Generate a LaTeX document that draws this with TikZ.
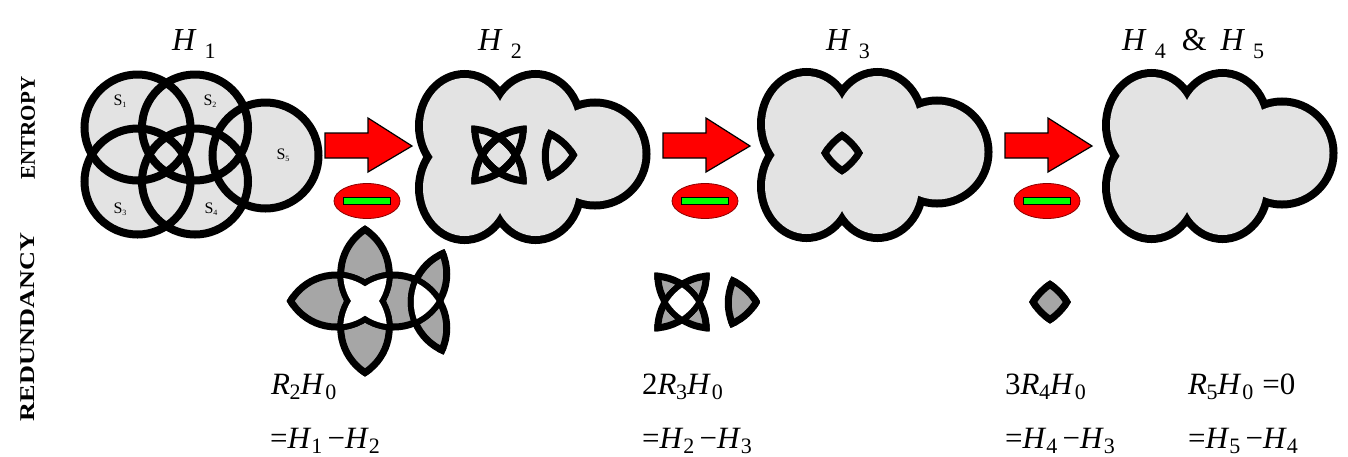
\documentclass[tikz,border=0pt]{standalone}
\usepackage{fontspec}
\usepackage{graphicx}
\setmainfont{Liberation Serif}
\definecolor{cloudgray}{HTML}{E3E3E3}
\definecolor{redgray}{HTML}{A6A6A6}
\definecolor{minusgreen}{HTML}{00FF00}
\definecolor{darkred}{HTML}{8B0000}
\tikzset{
 outl/.style={line width=7pt},
 redarrow/.style={fill=red, draw=black, line width=1.2pt, line join=miter},
 minusoval/.style={fill=red, draw=darkred, line width=0.8pt},
 minusbar/.style={fill=minusgreen, draw=black, line width=0.8pt},
 titletext/.style={anchor=base west, inner sep=0pt, font=\fontsize{32}{32}\selectfont},
 eqtext/.style={anchor=base west, inner sep=0pt, font=\fontsize{31}{31}\selectfont},
 sidetext/.style={rotate=90, inner sep=0pt, font=\bfseries\fontsize{21}{21}\selectfont},
 slabel/.style={inner sep=0pt, font=\fontsize{16}{16}\selectfont},
}
\newcommand\crad{53pt}
\newcommand\cradbig{56.5pt}
\newcommand\cradsmall{50.5pt}
\newcommand\tsub[1]{\hspace{8pt}\raisebox{-8pt}{\fontsize{22}{22}\selectfont #1}}
\newcommand\bsub[1]{\raisebox{-5pt}{\fontsize{22}{22}\selectfont #1}}
\newcommand\placecenters[2]{%
 \coordinate (p1) at ({#1-28.75},{#2-27});
 \coordinate (p2) at ({#1+28.75},{#2-27});
 \coordinate (p3) at ({#1-28.75},{#2+27});
 \coordinate (p4) at ({#1+28.75},{#2+27});
 \coordinate (p5) at ({#1+99.25},{#2+1});}
\newcommand\fillpairs[1]{%
 \foreach \pa/\pb in {1/2,1/3,1/4,1/5,2/3,2/4,2/5,3/4,3/5,4/5}{
  \begin{scope}\clip (p\pa) circle (\crad); \fill[#1] (p\pb) circle (\crad);\end{scope}}}
\newcommand\filltriples[2]{%
 \foreach \pa/\pb/\pc in {1/2/3,1/2/4,1/2/5,1/3/4,1/3/5,1/4/5,2/3/4,2/3/5,2/4/5,3/4/5}{
  \begin{scope}\clip (p\pa) circle (#2); \clip (p\pb) circle (#2); \fill[#1] (p\pc) circle (#2);\end{scope}}}
\newcommand\fillquads[2]{%
 \foreach \pa/\pb/\pc/\pd in {1/2/3/4,1/2/3/5,1/2/4/5,1/3/4/5,2/3/4/5}{
  \begin{scope}\clip (p\pa) circle (#2); \clip (p\pb) circle (#2); \clip (p\pc) circle (#2); \fill[#1] (p\pd) circle (#2);\end{scope}}}
\newcommand\outlineone{%
 \foreach \pa in {1,...,5}{\foreach \pb in {1,...,5}{\ifnum\pa=\pb\relax\else
  \begin{scope}\clip (p\pb) circle (\cradbig); \draw[outl] (p\pa) circle (\crad);\end{scope}\fi}}}
\newcommand\outlinetwo{%
 \foreach \pa/\pb/\pc in {1/2/3,1/2/4,1/2/5,1/3/4,1/3/5,1/4/5,2/1/3,2/1/4,2/1/5,2/3/4,2/3/5,2/4/5,3/1/2,3/1/4,3/1/5,3/2/4,3/2/5,3/4/5,4/1/2,4/1/3,4/1/5,4/2/3,4/2/5,4/3/5,5/1/2,5/1/3,5/1/4,5/2/3,5/2/4,5/3/4}{
  \begin{scope}\clip (p\pb) circle (\cradbig); \clip (p\pc) circle (\cradbig); \draw[outl] (p\pa) circle (\crad);\end{scope}}}
\newcommand\outlinethree{%
 \foreach \pa/\pb/\pc/\pd in {1/2/3/4,1/2/3/5,1/2/4/5,1/3/4/5,2/1/3/4,2/1/3/5,2/1/4/5,2/3/4/5,3/1/2/4,3/1/2/5,3/1/4/5,3/2/4/5,4/1/2/3,4/1/2/5,4/1/3/5,4/2/3/5,5/1/2/3,5/1/2/4,5/1/3/4,5/2/3/4}{
  \begin{scope}\clip (p\pb) circle (\cradbig); \clip (p\pc) circle (\cradbig); \clip (p\pd) circle (\cradbig); \draw[outl] (p\pa) circle (\crad);\end{scope}}}
\newcommand\cloudat[2]{%
 \begin{scope}[shift={(#1,#2)}]
 \foreach \sx in {-1,1}{\foreach \sy in {-1,1}{\draw[line width=16pt] ({\sx*35.5},{\sy*31}) ellipse [x radius=41.5pt, y radius=48pt];}}
 \draw[line width=16pt] (95,-3) circle (47.5pt);
 \foreach \sx in {-1,1}{\foreach \sy in {-1,1}{\fill[cloudgray] ({\sx*35.5},{\sy*31}) ellipse [x radius=41.5pt, y radius=48pt];}}
 \fill[cloudgray] (95,-3) circle (47.5pt);
 \fill[cloudgray] (-36,-32) rectangle (36,32);
 \end{scope}}
\newcommand\redarrowat[2]{% start x, tip y
 \draw[redarrow] (#1,{#2-13}) -- ({#1+43},{#2-13}) -- ({#1+43},{#2-28}) -- ({#1+87},#2) -- ({#1+43},{#2+26}) -- ({#1+43},{#2+12}) -- (#1,{#2+12}) -- cycle;}
\newcommand\minusat[2]{%
 \draw[minusoval] (#1,#2) ellipse [x radius=33pt, y radius=17.5pt];
 \draw[minusbar] ({#1-23.5},{#2-3.5}) rectangle ({#1+23.5},{#2+3.5});}
\begin{document}
\begin{tikzpicture}[x=1pt,y=-1pt]
\useasboundingbox (0,0) rectangle (1348,456);
% ---- H1 circles
\foreach \cc in {(137.5,127.5),(195,127.5),(137.5,181.5),(195,181.5),(265.5,155.5)}{\fill[cloudgray] \cc circle (53pt);}
\foreach \cc in {(137.5,127.5),(195,127.5),(137.5,181.5),(195,181.5),(265.5,155.5)}{\draw[line width=8pt] \cc circle (53pt);}
\node[slabel] (s1) at (120,101) {S\raisebox{-2pt}{\fontsize{8}{8}\selectfont 1}};
\node[slabel] (s2) at (210,101) {S\raisebox{-2pt}{\fontsize{8}{8}\selectfont 2}};
\node[slabel] (s3) at (120,209) {S\raisebox{-2pt}{\fontsize{8}{8}\selectfont 3}};
\node[slabel] (s4) at (211,209) {S\raisebox{-2pt}{\fontsize{8}{8}\selectfont 4}};
\node[slabel] (s5) at (283,155) {S\raisebox{-2pt}{\fontsize{8}{8}\selectfont 5}};
% ---- clouds
\cloudat{500}{157}
\cloudat{842}{155}
\cloudat{1187}{156}
% ---- inner shapes in clouds
\begin{scope}\placecenters{499}{155}\outlinetwo\end{scope}
\begin{scope}\placecenters{842}{153}\outlinethree\end{scope}
% ---- arrows and minus signs
\redarrowat{325}{146}
\redarrowat{663}{146}
\redarrowat{1005}{146}
\minusat{367}{201}
\minusat{705}{201}
\minusat{1047}{201}
% ---- redundancy figures
\begin{scope}\placecenters{365}{301}\fillpairs{redgray}\outlineone\filltriples{white}{\cradsmall}\end{scope}
\begin{scope}\placecenters{682}{302}\filltriples{redgray}{\crad}\outlinetwo\fillquads{white}{\cradsmall}\end{scope}
\begin{scope}\placecenters{1050}{302}\fillquads{redgray}{\crad}\outlinethree\end{scope}
% ---- titles
\node[titletext] (t1) at (172,50) {\textit{H}\tsub{1}};
\node[titletext] (t2) at (478,50) {\textit{H}\tsub{2}};
\node[titletext] (t3) at (826,50) {\textit{H}\tsub{3}};
\node[titletext] (t4) at (1122,50) {\textit{H}\tsub{4}\hspace{16pt}\&\hspace{14pt}\textit{H}\tsub{5}};
% ---- side labels
\node[sidetext] (ent) at (28,128) {ENTROPY};
\node[sidetext] (red) at (28,327) {\scalebox{1.25}[1]{REDUNDANCY}};
% ---- equations
\node[eqtext] (e1a) at (271,394) {\textit{R}\kern-0.5pt\bsub{2}\textit{H}\kern1pt\bsub{0}};
\node[eqtext] (e1b) at (270,448) {=\textit{H}\bsub{1}\,−\textit{H}\bsub{2}};
\node[eqtext] (e2a) at (642,394) {2\textit{R}\kern-0.5pt\bsub{3}\textit{H}\kern1pt\bsub{0}};
\node[eqtext] (e2b) at (642,448) {=\textit{H}\bsub{2}\,−\textit{H}\bsub{3}};
\node[eqtext] (e3a) at (1005,394) {3\textit{R}\kern-0.5pt\bsub{4}\textit{H}\kern1pt\bsub{0}};
\node[eqtext] (e3b) at (1005,448) {=\textit{H}\bsub{4}\,−\textit{H}\bsub{3}};
\node[eqtext] (e4a) at (1188,394) {\textit{R}\kern-0.5pt\bsub{5}\textit{H}\kern1pt\bsub{0}\hspace{9pt}=0};
\node[eqtext] (e4b) at (1188,448) {=\textit{H}\bsub{5}\,−\textit{H}\bsub{4}};
\end{tikzpicture}
\end{document}
